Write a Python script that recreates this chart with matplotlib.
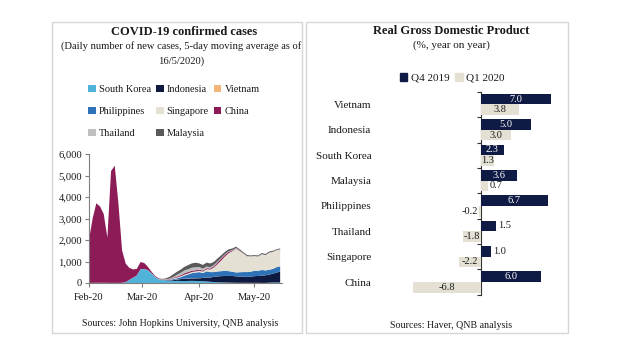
import numpy as np
import pandas as pd
import matplotlib
matplotlib.use("Agg")
import matplotlib.pyplot as plt
import matplotlib.dates as mdates
from matplotlib.patches import Rectangle, Patch
from matplotlib.ticker import FuncFormatter

plt.rcParams['font.family'] = ['Liberation Serif', 'DejaVu Serif']

# ---------------- data: COVID-19 (5-day MA, every 2 days from 1 Feb 2020) ----------------
dates = pd.date_range('2020-02-01', periods=53, freq='2D')
south_korea = [2, 3, 3, 3, 2, 1, 1, 1, 2, 10,
               40, 150, 250, 350, 640, 650, 600, 450, 270, 170,
               130, 100, 85, 90, 100, 90, 85, 95, 100, 95,
               90, 85, 75, 55, 45, 35, 30, 25, 20, 15,
               10, 10, 9, 8, 8, 7, 8, 5, 5, 15,
               25, 25, 20]
indonesia = [0, 0, 0, 0, 0, 0, 0, 0, 0, 0,
             0, 0, 0, 0, 0, 0, 1, 1, 2, 3,
             5, 15, 25, 45, 60, 95, 100, 105, 110, 120,
             130, 150, 175, 200, 240, 270, 290, 300, 310, 310,
             300, 290, 290, 280, 290, 310, 320, 340, 350, 380,
             400, 460, 510]
vietnam = [1, 1, 1, 1, 1, 0, 0, 0, 0, 0,
           0, 0, 0, 0, 0, 0, 0, 0, 2, 3,
           3, 5, 5, 10, 10, 10, 10, 10, 8, 8,
           6, 5, 3, 2, 2, 2, 1, 1, 1, 1,
           1, 1, 1, 0, 0, 0, 0, 0, 0, 0,
           0, 0, 0]
philippines = [0, 0, 0, 0, 0, 0, 0, 0, 0, 0,
               0, 0, 0, 0, 0, 0, 0, 0, 1, 5,
               5, 20, 30, 40, 50, 80, 150, 190, 240, 260,
               280, 220, 290, 250, 220, 230, 230, 240, 220, 200,
               180, 200, 210, 220, 230, 250, 240, 260, 230, 220,
               230, 250, 250]
singapore = [2, 3, 4, 6, 7, 6, 5, 4, 3, 3,
             3, 2, 2, 3, 3, 3, 4, 6, 8, 10,
             12, 15, 20, 30, 40, 45, 50, 50, 55, 55,
             65, 70, 100, 120, 220, 350, 500, 670, 840, 950,
             1100, 980, 850, 730, 700, 680, 660, 730, 710, 790,
             790, 790, 780]
china = [2000, 3000, 3700, 3550, 3200, 2100, 5200, 5450, 3700, 1500,
         850, 550, 380, 300, 330, 280, 150, 70, 40, 25,
         15, 15, 20, 25, 40, 50, 60, 65, 60, 55,
         50, 45, 45, 50, 60, 80, 90, 80, 60, 30,
         20, 15, 10, 8, 6, 5, 4, 3, 3, 3,
         5, 5, 8]
thailand = [2, 3, 4, 3, 2, 1, 1, 1, 0, 1,
            1, 1, 1, 1, 1, 1, 1, 2, 2, 3,
            3, 10, 20, 45, 90, 110, 130, 130, 140, 140,
            120, 95, 80, 60, 50, 40, 35, 30, 28, 25,
            20, 17, 15, 10, 8, 6, 5, 4, 3, 3,
            3, 3, 3]
malaysia = [1, 1, 2, 1, 1, 0, 0, 0, 0, 0,
            0, 0, 0, 0, 0, 0, 2, 3, 5, 5,
            15, 40, 90, 130, 140, 150, 170, 190, 200, 210,
            170, 170, 180, 170, 150, 140, 120, 105, 90, 75,
            60, 55, 50, 45, 40, 40, 45, 50, 50, 50,
            45, 35, 40]

covid_names = ['South Korea', 'Indonesia', 'Vietnam', 'Philippines',
               'Singapore', 'China', 'Thailand', 'Malaysia']
covid_series = [south_korea, indonesia, vietnam, philippines,
                singapore, china, thailand, malaysia]
covid_colors = ['#52B3DA', '#0E1A40', '#F2B57A', '#2E72B8',
                '#E4E0D3', '#8C1B57', '#BFBFBF', '#5A5A5A']

# ---------------- data: GDP ----------------
gdp_countries = ['Vietnam', 'Indonesia', 'South Korea', 'Malaysia',
                 'Philippines', 'Thailand', 'Singapore', 'China']
q4_2019 = [7.0, 5.0, 2.3, 3.6, 6.7, 1.5, 1.0, 6.0]
q1_2020 = [3.8, 3.0, 1.3, 0.7, -0.2, -1.8, -2.2, -6.8]

W, H = 620, 355
fig = plt.figure(figsize=(W / 100, H / 100), dpi=100)

def fx(px):
    return px / W

def fy(py):
    return 1 - py / H

# panel boxes
for (x0, y0, x1, y1) in [(52, 22, 302, 333), (306, 22, 568, 333)]:
    fig.add_artist(Rectangle((fx(x0), fy(y1)), fx(x1 - x0), (y1 - y0) / H,
                             transform=fig.transFigure, fill=False,
                             edgecolor='#D6D6D6', lw=1.0))

TXT = '#1A1A1A'

# ---------------- left chart ----------------
fig.text(fx(184), fy(32), 'COVID-19 confirmed cases', ha='center', va='center',
         fontsize=9, fontweight='bold', color=TXT)
fig.text(fx(181), fy(46), '(Daily number of new cases, 5-day moving average as of',
         ha='center', va='center', fontsize=7.6, color=TXT)
fig.text(fx(181), fy(61), '16/5/2020)', ha='center', va='center', fontsize=7.6, color=TXT)
fig.text(fx(180), fy(324), 'Sources: John Hopkins University, QNB analysis',
         ha='center', va='center', fontsize=7.1, color=TXT)

ax1 = fig.add_axes([fx(89), fy(283), fx(282 - 89), (283 - 154) / H])
ax1.stackplot(dates, *covid_series, colors=covid_colors, labels=covid_names, lw=0)
ax1.set_ylim(0, 6000)
ax1.set_yticks(np.arange(0, 6001, 1000))
ax1.yaxis.set_major_formatter(FuncFormatter(lambda v, p: f'{v:,.0f}'))
ax1.set_xlim(pd.Timestamp('2020-02-01'), pd.Timestamp('2020-05-16'))
ax1.xaxis.set_major_locator(mdates.MonthLocator())
ax1.xaxis.set_major_formatter(mdates.DateFormatter('%b-%y'))
for s in ['top', 'right']:
    ax1.spines[s].set_visible(False)
for s in ['left', 'bottom']:
    ax1.spines[s].set_color('#7F7F7F')
    ax1.spines[s].set_linewidth(0.8)
ax1.tick_params(axis='both', labelsize=7.6, colors='#7F7F7F', labelcolor=TXT,
                length=3, width=0.8, direction='out', pad=2)
ax1.tick_params(axis='x', pad=4)
ax1.set_facecolor('none')

# legend ordered so that rows read like the reference (column-major fill)
h, l = ax1.get_legend_handles_labels()
order = [0, 3, 6, 1, 4, 7, 2, 5]
fig.legend([h[i] for i in order], [l[i] for i in order], ncol=3,
           loc='center', bbox_to_anchor=(fx(174), fy(111.5)), frameon=False,
           fontsize=7.5, handlelength=0.7, handleheight=0.7, handletextpad=0.3,
           columnspacing=0.5, labelspacing=1.2, borderpad=0, labelcolor=TXT)

# ---------------- right chart ----------------
fig.text(fx(451), fy(31), 'Real Gross Domestic Product', ha='center', va='center',
         fontsize=9, fontweight='bold', color=TXT)
fig.text(fx(451), fy(45), '(%, year on year)', ha='center', va='center',
         fontsize=8, color=TXT)
fig.text(fx(451), fy(326), 'Sources: Haver, QNB analysis', ha='center', va='center',
         fontsize=7.2, color=TXT)

NAVY = '#0F1B45'
BEIGE = '#E4E1D4'
ax2 = fig.add_axes([fx(381), fy(294.7), fx(180), (294.7 - 91.8) / H])
ypos = np.arange(len(gdp_countries))
bw = 0.42
ax2.barh(ypos - bw / 2, q4_2019, height=bw, color=NAVY, label='Q4 2019')
ax2.barh(ypos + bw / 2, q1_2020, height=bw, color=BEIGE, label='Q1 2020')
ax2.set_xlim(-10, 8)
ax2.set_ylim(len(gdp_countries) - 0.5, -0.5)
ax2.set_yticks(ypos)
ax2.set_yticklabels(gdp_countries, fontsize=8, color=TXT)
ax2.tick_params(axis='y', length=0, pad=7)
ax2.xaxis.set_visible(False)
for s in ax2.spines.values():
    s.set_visible(False)
ax2.set_facecolor('none')

sec = ax2.secondary_yaxis(0, transform=ax2.transData)
sec.set_yticks(np.arange(-0.5, len(gdp_countries), 1.0))
sec.set_yticklabels([])
sec.tick_params(length=3, width=0.8, direction='out', color='#333333')
sec.spines['left'].set_color('#333333')
sec.spines['left'].set_linewidth(0.8)

for i, v in enumerate(q4_2019):
    y = ypos[i] - bw / 2
    if v >= 2:
        ax2.text(v / 2, y, f'{v:.1f}', ha='center', va='center', fontsize=7.5, color='white')
    else:
        ax2.text(v + 0.2, y, f'{v:.1f}', ha='left', va='center', fontsize=7.5, color=TXT)
for i, v in enumerate(q1_2020):
    y = ypos[i] + bw / 2
    if abs(v) >= 1:
        ax2.text(v / 2, y, f'{v:.1f}', ha='center', va='center', fontsize=7.5, color=TXT)
    elif v >= 0:
        ax2.text(v + 0.15, y, f'{v:.1f}', ha='left', va='center', fontsize=7.5, color=TXT)
    else:
        ax2.text(v - 0.15, y, f'{v:.1f}', ha='right', va='center', fontsize=7.5, color=TXT)

fig.legend(handles=[Patch(color=NAVY), Patch(color=BEIGE)], labels=['Q4 2019', 'Q1 2020'],
           ncol=2, loc='center', bbox_to_anchor=(fx(452), fy(78)), frameon=False,
           fontsize=8, handlelength=0.7, handleheight=0.7, handletextpad=0.3,
           columnspacing=0.5, borderpad=0, labelcolor=TXT)

fig.savefig('out.png', dpi=100)
